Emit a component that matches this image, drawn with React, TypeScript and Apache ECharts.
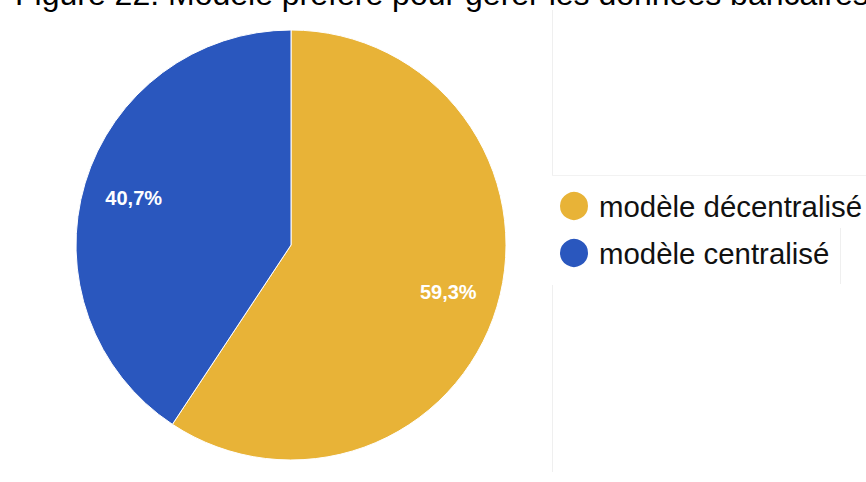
import React, { useEffect, useRef } from "react";
import * as echarts from "echarts";

const titleText = "Figure 22: Modèle préféré pour gérer les données bancaires";
const categories = ["modèle décentralisé", "modèle centralisé"];
const values = [59.3, 40.7];
const colors = ["#E8B337", "#2A57BE"];

export default function App() {
  const ref = useRef<HTMLDivElement>(null);
  useEffect(() => {
    if (!ref.current) return;
    const chart = echarts.init(ref.current, null, { renderer: "svg" });
    const data = categories.map((name, i) => ({
      name,
      value: values[i],
      itemStyle: { color: colors[i] },
    }));
    const fam = '"Liberation Sans", Arial, Helvetica, sans-serif';
    chart.setOption({
      animation: false,
      backgroundColor: "#ffffff",
      legend: {
        orient: "vertical",
        left: 553,
        top: 185,
        icon: "circle",
        itemWidth: 36,
        itemHeight: 30,
        itemGap: 15,
        data: categories,
        selectedMode: false,
        textStyle: { fontSize: 29.4, fontFamily: fam, color: "#111111", padding: [0, 0, 0, 2] },
      },
      graphic: [
        { type: "line", shape: { x1: 552.5, y1: 10, x2: 552.5, y2: 175 }, style: { stroke: "#efefef", lineWidth: 1 } },
        { type: "line", shape: { x1: 552, y1: 175.5, x2: 866, y2: 175.5 }, style: { stroke: "#f2f2f2", lineWidth: 1 } },
        { type: "line", shape: { x1: 552.5, y1: 285, x2: 552.5, y2: 472 }, style: { stroke: "#efefef", lineWidth: 1 } },
        { type: "line", shape: { x1: 840.5, y1: 228, x2: 840.5, y2: 284 }, style: { stroke: "#efefef", lineWidth: 1 } },
        {
          type: "text",
          x: 15,
          y: 10,
          style: {
            text: titleText,
            fontSize: 32,
            fontFamily: fam,
            fill: "#000",
            verticalAlign: "bottom",
          },
        },
      ],
      series: [
        {
          type: "pie",
          center: [291, 245],
          radius: [0, 215],
          startAngle: 90,
          clockwise: true,
          label: { show: false },
          labelLine: { show: false },
          silent: true,
          itemStyle: { borderColor: "#ffffff", borderWidth: 1 },
          data,
        },
        {
          type: "pie",
          center: [291, 245],
          radius: [107.5, 215],
          startAngle: 90,
          clockwise: true,
          silent: true,
          itemStyle: { color: "transparent", borderWidth: 0 },
          labelLine: { show: false },
          label: {
            show: true,
            position: "inside",
            formatter: (p: any) => p.value.toFixed(1).replace(".", ",") + "%",
            color: "#ffffff",
            fontSize: 20,
            fontWeight: "bold",
            fontFamily: fam,
          },
          data: categories.map((name, i) => ({ name, value: values[i] })),
        },
      ],
    });
    return () => chart.dispose();
  }, []);
  return (
    <div
      ref={ref}
      style={{ position: "fixed", left: 0, top: 0, width: 866, height: 482 }}
    />
  );
}
